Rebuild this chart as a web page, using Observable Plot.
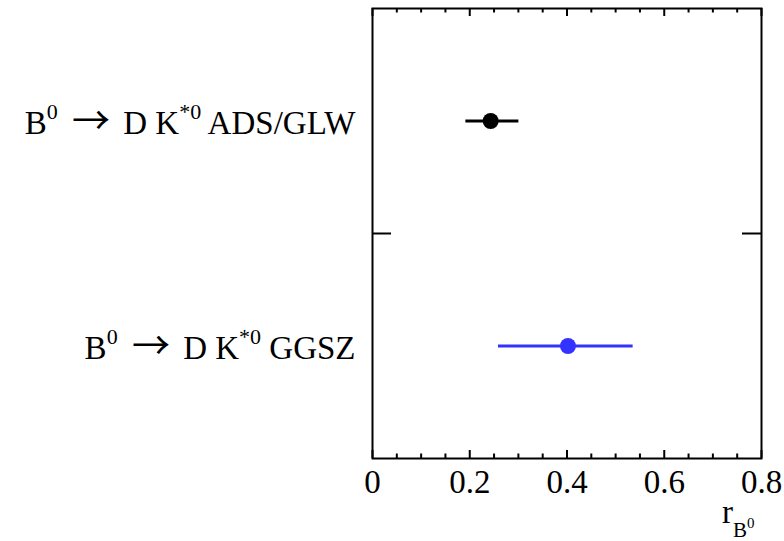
<!DOCTYPE html>
<html>
<head>
<meta charset="utf-8">
<script src="https://cdn.jsdelivr.net/npm/d3@7"></script>
<script src="https://cdn.jsdelivr.net/npm/@observablehq/plot@0.6"></script>
<style>
  html, body { margin: 0; padding: 0; background: #fff; }
  #chart { width: 784px; height: 541px; }
</style>
</head>
<body>
<div id="chart"></div>
<script>
// ---- data ----
const categories = ["B^{0} → D K^{*0} ADS/GLW", "B^{0} → D K^{*0} GGSZ"];
const values = [0.243, 0.402];
const errLow = [0.191, 0.258];
const errHigh = [0.300, 0.535];
const colors = ["#000000", "#3333ff"];
const xMajorTicks = [0, 0.2, 0.4, 0.6, 0.8];
const xMinorTicks = [0.05, 0.1, 0.15, 0.25, 0.3, 0.35, 0.45, 0.5, 0.55, 0.65, 0.7, 0.75];
const xTickLabels = ["0", "0.2", "0.4", "0.6", "0.8"];

const W = 784, H = 541;
const mL = 372, mR = 23, mT = 8, mB = 83;
const frameW = W - mL - mR, frameH = H - mT - mB;

const rows = categories.map((c, i) => ({
  cat: c, pos: categories.length - i - 0.5,
  v: values[i], lo: errLow[i], hi: errHigh[i], color: colors[i]
}));

const font = "Liberation Serif, Times New Roman, serif";

const chart = Plot.plot({
  width: W, height: H,
  marginLeft: mL, marginRight: mR, marginTop: mT, marginBottom: mB,
  style: { fontFamily: font, fontSize: "33px", color: "#000", background: "#fff", overflow: "visible" },
  x: { domain: [0, 0.8] },
  y: { domain: [0, categories.length] },
  marks: [
    Plot.axisX({ anchor: "bottom", ticks: xMajorTicks, tickSize: 0, tickPadding: 11,
      tickFormat: d => xTickLabels[xMajorTicks.indexOf(d)], fontSize: 33, label: null }),
    Plot.axisY({ anchor: "left", ticks: rows.map(r => r.pos), tickSize: 0, tickPadding: 17, dy: 2.5,
      tickFormat: d => categories[Math.round(categories.length - 0.5 - d)], fontSize: 33, label: null }),
    Plot.ruleX(xMajorTicks, { x: d => d, insetTop: frameH - 8, stroke: "#000", strokeWidth: 2 }),
    Plot.ruleX(xMinorTicks, { x: d => d, insetTop: frameH - 4.5, stroke: "#000", strokeWidth: 2 }),
    Plot.ruleX(xMajorTicks, { x: d => d, insetBottom: frameH - 8, stroke: "#000", strokeWidth: 2 }),
    Plot.ruleX(xMinorTicks, { x: d => d, insetBottom: frameH - 4.5, stroke: "#000", strokeWidth: 2 }),
    Plot.ruleY([1], { y: d => d, insetRight: frameW - 19, stroke: "#000", strokeWidth: 2 }),
    Plot.ruleY([1], { y: d => d, insetLeft: frameW - 19, stroke: "#000", strokeWidth: 2 }),
    Plot.link(rows, { x1: "lo", x2: "hi", y1: "pos", y2: "pos", stroke: "color", strokeWidth: 3 }),
    Plot.dot(rows, { x: "v", y: "pos", r: 8, fill: "color", stroke: null }),
    Plot.frame({ stroke: "#000", strokeWidth: 2 })
  ]
});

document.getElementById("chart").appendChild(chart);

const svg = d3.select(chart);
svg.selectAll('g[aria-label="y-axis tick label"] text').each(function () {
  const el = d3.select(this);
  const raw = el.text();
  el.text(null);
  const re = /\^\{([^}]*)\}|→/g;
  let last = 0, m, raised = false;
  const pieces = [];
  while ((m = re.exec(raw)) !== null) {
    if (m.index > last) pieces.push({ t: raw.slice(last, m.index), k: "n" });
    if (m[0] === "→") pieces.push({ t: "→", k: "arrow" });
    else pieces.push({ t: m[1], k: "sup" });
    last = re.lastIndex;
  }
  if (last < raw.length) pieces.push({ t: raw.slice(last), k: "n" });
  let afterArrow = false;
  pieces.forEach(p => {
    const ts = el.append("tspan").text(p.t);
    if (p.k === "sup") {
      ts.attr("font-size", 22);
      if (!raised) { ts.attr("dy", -15); raised = true; }
    } else {
      if (raised) { ts.attr("dy", 15); raised = false; }
      if (p.k === "arrow") ts.attr("font-family", "Noto Sans CJK SC").attr("font-size", 38).attr("dx", 6);
      else if (afterArrow) ts.attr("dx", 5);
    }
    afterArrow = p.k === "arrow";
  });
});

// axis title r_{B^0}
const t = svg.append("text")
  .attr("x", 722).attr("y", 523).attr("text-anchor", "start")
  .attr("font-family", font).attr("font-size", 33).attr("fill", "#000");
t.append("tspan").text("r");
t.append("tspan").attr("font-size", 21).attr("dy", 14).text("B");
t.append("tspan").attr("font-size", 15).attr("dy", -9).text("0");
</script>
</body>
</html>
